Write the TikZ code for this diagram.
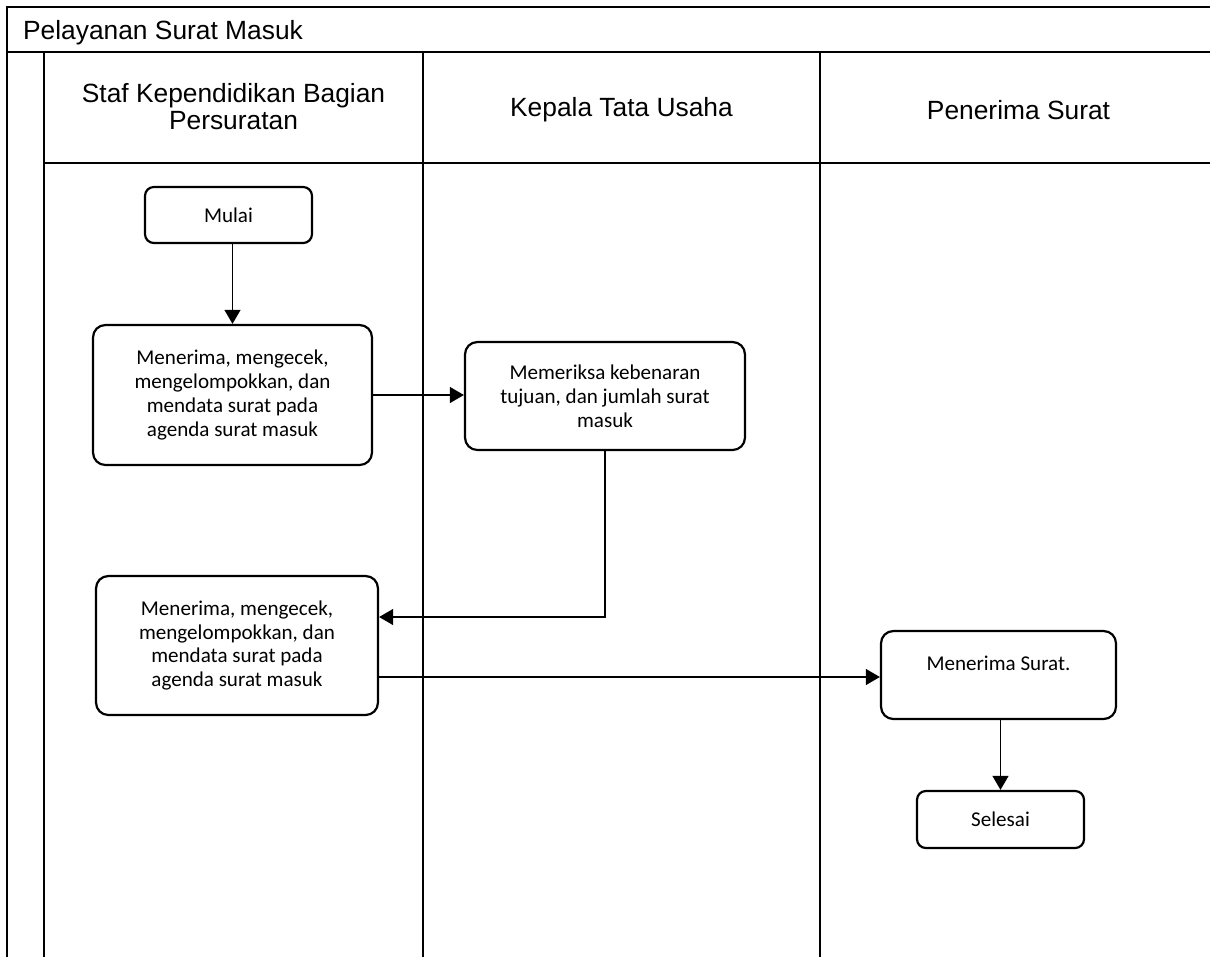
\documentclass[tikz,border=0pt]{standalone}
\usepackage{fontspec}
\setmainfont{Liberation Sans}
\newfontfamily\boxfont{Carlito}
\usetikzlibrary{arrows.meta}

\begin{document}
\begin{tikzpicture}[x=0.02cm, y=-0.02cm, line width=1.25pt,
    lanehead/.style={font=\fontsize{15}{15.3}\selectfont, align=center},
    proc/.style={draw, rounded corners=7pt, align=center, inner sep=0pt,
        font=\boxfont\fontsize{12}{13.6}\selectfont},
    flow/.style={line width=1.05pt, -{Triangle[length=8pt,width=9pt]}}]
    \useasboundingbox (0,0) rectangle (1210,957);

    % pool and lanes
    \draw (1210,7) -- (7,7) -- (7,957);
    \draw (7,52) -- (1210,52);
    \draw (44,52) -- (44,957);
    \draw (44,163) -- (1210,163);
    \draw (423,52) -- (423,957);
    \draw (820,52) -- (820,957);

    \node[anchor=base west, inner sep=0pt, font=\fontsize{15}{15.3}\selectfont] (pool) at (22,39.5) {Pelayanan Surat Masuk};
    \node[lanehead] (staf)     at (233.5,107)  {Staf Kependidikan Bagian\\Persuratan};
    \node[lanehead] (ktu)      at (621.5,110)  {Kepala Tata Usaha};
    \node[lanehead] (penerima) at (1018.5,110) {Penerima Surat};

    % steps
    \node[proc, rounded corners=5pt, minimum width=3.34cm, minimum height=1.12cm] (mulai) at (228.5,215) {Mulai};
    \node[proc, minimum width=5.58cm, minimum height=2.8cm] (terima) at (232.5,395)
        {Menerima, mengecek,\\mengelompokkan, dan\\mendata surat pada\\agenda surat masuk};
    \node[proc, minimum width=5.6cm, minimum height=2.16cm] (periksa) at (605,396)
        {Memeriksa kebenaran\\tujuan, dan jumlah surat\\masuk};
    \node[proc, minimum width=5.64cm, minimum height=2.78cm] (teruskan) at (237,645.5)
        {Menerima, mengecek,\\mengelompokkan, dan\\mendata surat pada\\agenda surat masuk};
    \node[proc, minimum width=4.7cm, minimum height=1.76cm,
        label={[anchor=north, yshift=-0.5cm, inner sep=0pt, font=\boxfont\fontsize{12}{13.6}\selectfont]north:Menerima Surat.}]
        (surat) at (998.5,675) {};
    \node[proc, rounded corners=5pt, minimum width=3.34cm, minimum height=1.14cm] (selesai) at (1000.5,819.5) {Selesai};

    % connectors
    \coordinate (keluar) at ([yshift=-0.63cm]teruskan.east);
    \draw[flow] (terima.north |- mulai.south) -- (terima.north);
    \draw[flow] (terima.east) -- (terima.east -| periksa.west);
    \draw[flow] (periksa.south) |- ([yshift=0.57cm]teruskan.east);
    \draw[flow] (keluar) -- (keluar -| surat.west);
    \draw[flow] (selesai.north |- surat.south) -- (selesai.north);
\end{tikzpicture}
\end{document}
